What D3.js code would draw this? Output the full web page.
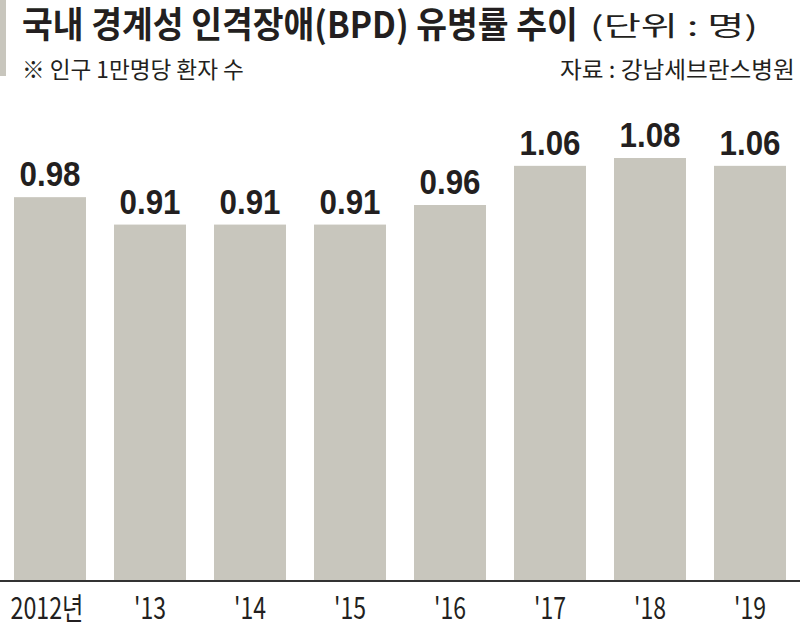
<!DOCTYPE html>
<html>
<head>
<meta charset="utf-8">
<script src="https://cdn.jsdelivr.net/npm/d3@7"></script>
<style>
  body { margin: 0; background: #fff; }
  svg { display: block; }
</style>
</head>
<body>
<svg id="chart"></svg>
<script>
// data
const years = ["2012년", "'13", "'14", "'15", "'16", "'17", "'18", "'19"];
const rates = [0.98, 0.91, 0.91, 0.91, 0.96, 1.06, 1.08, 1.06];

const W = 800, H = 629;
const baseY = 581;

const svg = d3.select("#chart").attr("width", W).attr("height", H);

const kfont = "'Noto Sans CJK KR', 'Noto Sans', sans-serif";
const nfont = "'Liberation Sans', Arial, sans-serif";
const ink = "#231f20";
const barColor = "#c8c6bd";

// squeeze a text horizontally to a target width (condensed newspaper look)
function squeeze(sel, x, y, w, anchor) {
  sel.each(function() {
    const t = d3.select(this);
    const natural = this.getComputedTextLength();
    const sx = w / natural;
    t.attr("x", 0).attr("y", 0)
      .attr("text-anchor", anchor || "start")
      .attr("transform", `translate(${x},${y}) scale(${sx},1)`);
  });
}

function addText(str, size, weight) {
  return svg.append("text")
    .attr("font-family", kfont).attr("font-size", size)
    .attr("font-weight", weight || 400)
    .attr("fill", ink)
    .text(str);
}

// left accent
svg.append("rect").attr("x", 0).attr("y", 0).attr("width", 6).attr("height", 76).attr("fill", barColor);

// headings
squeeze(addText("국내 경계성 인격장애(BPD) 유병률 추이", 36, 700), 22, 38, 556);
squeeze(addText("(단위 : 명)", 27), 590, 36, 168);
squeeze(addText("※ 인구 1만명당 환자 수", 23), 22, 78, 222);
squeeze(addText("자료 : 강남세브란스병원", 23), 560, 78, 235);

// scales
const x = d3.scaleBand().domain(years).range([0, W]).paddingInner(0.28).paddingOuter(0.14);
const y = d3.scaleLinear().domain([0, 1.08]).range([baseY, 158]);

// bars
svg.selectAll(".bar")
  .data(rates)
  .enter().append("rect")
  .attr("class", "bar")
  .attr("x", (d, i) => x(years[i]))
  .attr("y", d => y(d))
  .attr("width", x.bandwidth())
  .attr("height", d => baseY - y(d))
  .attr("fill", barColor);

// value labels
svg.selectAll(".val")
  .data(rates)
  .enter().append("text")
  .attr("class", "val")
  .attr("font-family", nfont).attr("font-weight", 700).attr("font-size", 35)
  .attr("fill", ink)
  .text(d => d.toFixed(2))
  .each(function(d, i) {
    squeeze(d3.select(this), x(years[i]) + x.bandwidth() / 2, y(d) - 11, 61, "middle");
  });

// axis
const axis = svg.append("g")
  .attr("transform", `translate(0,${baseY})`)
  .call(d3.axisBottom(x).tickSize(0).tickPadding(0));
axis.select(".domain").attr("d", `M0,0H${W}`).attr("stroke", "#333").attr("stroke-width", 2);
axis.selectAll(".tick text")
  .attr("font-family", kfont).attr("font-size", 30)
  .attr("fill", ink)
  .attr("dy", null)
  .each(function(d, i) {
    squeeze(d3.select(this), i === 0 ? -3 : 0, 38, i === 0 ? 73 : 32, "middle");
  });
</script>
</body>
</html>
